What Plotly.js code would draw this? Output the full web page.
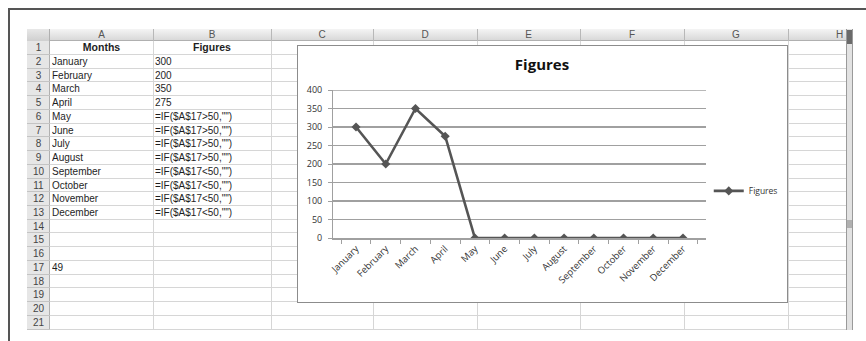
<!DOCTYPE html>
<html>
<head>
<meta charset="utf-8">
<script src="https://cdn.plot.ly/plotly-3.0.1.min.js"></script>
<style>
  html, body { margin:0; padding:0; background:#fff; }
  #page { position:relative; width:866px; height:341px; overflow:hidden; background:#fff; font-family:"Liberation Sans", Arial, sans-serif; }
  .abs { position:absolute; box-sizing:border-box; }
  .cell { position:absolute; font-size:10px; color:#1e1e1e; white-space:nowrap; overflow:hidden; }
  #chart { position:absolute; left:297px; top:45px; width:491px; height:258px; border:1px solid #8c8c8c; box-sizing:border-box; background:#fff; }
</style>
</head>
<body>
<div id="page">
  <div id="chart"></div>
</div>
<script>
// ---- Data ----
const months = ["January","February","March","April","May","June","July","August","September","October","November","December"];
const figures = [300, 200, 350, 275, 0, 0, 0, 0, 0, 0, 0, 0];
const cellB = ["300","200","350","275",
  '=IF($A$17>50,"")','=IF($A$17>50,"")','=IF($A$17>50,"")','=IF($A$17>50,"")',
  '=IF($A$17<50,"")','=IF($A$17<50,"")','=IF($A$17<50,"")','=IF($A$17<50,"")'];
const colLetters = ["A","B","C","D","E","F","G","H"];
const headerA = "Months";
const headerB = "Figures";
const cellA17 = "49";
const seriesName = "Figures";
const chartTitle = "Figures";
const yTicks = [0, 50, 100, 150, 200, 250, 300, 350, 400];
const yMax = 400;

// ---- Spreadsheet background ----
const page = document.getElementById('page');
const chartDiv = document.getElementById('chart');
function box(l, t, w, h, style, text, cls) {
  const d = document.createElement('div');
  d.className = cls || 'abs';
  d.style.left = l + 'px'; d.style.top = t + 'px';
  d.style.width = w + 'px'; d.style.height = h + 'px';
  if (style) d.setAttribute('style', d.getAttribute('style') + ';' + style);
  if (text !== undefined) d.textContent = text;
  page.insertBefore(d, chartDiv);
  return d;
}
// outer frame
box(8, 8, 858, 2, 'background:#555');
box(8, 8, 2, 333, 'background:#555');

const colEdges = [50, 153, 271, 373, 477, 580, 684, 788, 891];
const sheetRight = 846;
const headTop = 29, rowTop = 41.2, rowH = 13.73, nRows = 21;
const sheetBottom = rowTop + nRows * rowH;

// column header band
box(27, headTop, sheetRight - 27, rowTop - headTop, 'background:linear-gradient(#f4f4f4,#d9d9d9);border-bottom:1px solid #b0b0b0');
box(27, headTop, 23, rowTop - headTop, 'background:linear-gradient(#e8e8e8,#cfcfcf);border-right:1px solid #b0b0b0');
// row header band
box(27, rowTop, 23, sheetBottom - rowTop, 'background:#e6e6e6;border-right:1px solid #b0b0b0');

// column letters & vertical lines
for (let i = 0; i < colLetters.length; i++) {
  const l = colEdges[i];
  const w = colEdges[i + 1] - l;
  box(l, headTop, w, rowTop - headTop, 'font-size:10px;color:#555;text-align:center;line-height:' + (rowTop - headTop) + 'px', colLetters[i], 'cell');
  if (i > 0) {
    box(l, headTop, 1, rowTop - headTop, 'background:#b8b8b8');
    box(l, rowTop, 1, sheetBottom - rowTop, 'background:#d6d6d6');
  }
}
// row lines and row numbers
for (let r = 0; r < nRows; r++) {
  const t = rowTop + r * rowH;
  box(27, t, 23, rowH, 'font-size:10px;color:#444;text-align:center;line-height:' + rowH + 'px', String(r + 1), 'cell');
  box(27, t + rowH - 1, 23, 1, 'background:#c4c4c4');
  box(50, t + rowH - 1, sheetRight - 50, 1, 'background:#d6d6d6');
}
// cell contents
function cellText(row, col, text, extra) {
  const t = rowTop + (row - 1) * rowH;
  const l = colEdges[col], w = colEdges[col + 1] - l;
  box(l + 2, t, w - 4, rowH, 'line-height:' + rowH + 'px;' + (extra || ''), text, 'cell');
}
cellText(1, 0, headerA, 'font-weight:bold;text-align:center;font-size:10.5px');
cellText(1, 1, headerB, 'font-weight:bold;text-align:center;font-size:10.5px');
for (let i = 0; i < months.length; i++) {
  cellText(i + 2, 0, months[i]);
  cellText(i + 2, 1, cellB[i]);
}
cellText(17, 0, cellA17);
// scrollbar
box(sheetRight, headTop, 7, sheetBottom - headTop, 'background:#e2e2e2;border-left:1px solid #9a9a9a;border-right:1px solid #9a9a9a');
box(sheetRight + 1, headTop + 1, 5, 14, 'background:#6a6a6a');
box(sheetRight + 1, 220, 5, 8, 'background:#b0b0b0');

// ---- Chart ----
const gridCol = '#a0a0a0';
const textCol = '#333333';
const trace = {
  type: 'scatter', mode: 'lines+markers', name: seriesName,
  x: months, y: figures,
  line: { color: '#555555', width: 2.6 },
  marker: { symbol: 'diamond', size: 7, color: '#555555' }
};
const layout = {
  width: 489, height: 256,
  margin: { l: 35, r: 81, t: 44, b: 64, pad: 0, autoexpand: false },
  paper_bgcolor: '#ffffff', plot_bgcolor: '#ffffff',
  font: { family: '"Open Sans", sans-serif', color: textCol, size: 9 },
  title: { text: chartTitle, x: 0.499, xref: 'container', y: 0.926, yref: 'container', yanchor: 'middle',
           font: { family: '"Open Sans", sans-serif', size: 15, color: '#111', weight: 'bold' } },
  showlegend: true,
  legend: { xref: 'container', yref: 'container', x: 0.84, xanchor: 'left', y: 0.434, yanchor: 'middle',
            font: { size: 8.5, color: textCol }, bgcolor: 'rgba(0,0,0,0)', itemwidth: 30 },
  xaxis: {
    type: 'category', categoryorder: 'array', categoryarray: months, automargin: false,
    tickangle: -45, ticks: 'outside', tickson: 'boundaries', ticklen: 4, tickcolor: gridCol, tickwidth: 1,
    showline: true, linecolor: gridCol, linewidth: 1.5, showgrid: false, zeroline: false,
    tickfont: { size: 9.5, color: textCol }, fixedrange: true
  },
  yaxis: {
    range: [0, yMax], tickvals: yTicks, ticks: 'outside', ticklen: 4, tickcolor: gridCol, automargin: false,
    showline: true, linecolor: gridCol, linewidth: 1, showgrid: true, gridcolor: gridCol, gridwidth: 1.5,
    zeroline: false, tickfont: { size: 9, color: textCol }, ticklabelstandoff: 4, fixedrange: true
  },
  shapes: [
    { type: 'line', xref: 'paper', x0: 0, x1: 1, yref: 'y', y0: yMax, y1: yMax,
      line: { color: gridCol, width: 1.5 }, layer: 'below' }
  ]
};
Plotly.newPlot('chart', [trace], layout, { displayModeBar: false, staticPlot: true });
</script>
</body>
</html>
